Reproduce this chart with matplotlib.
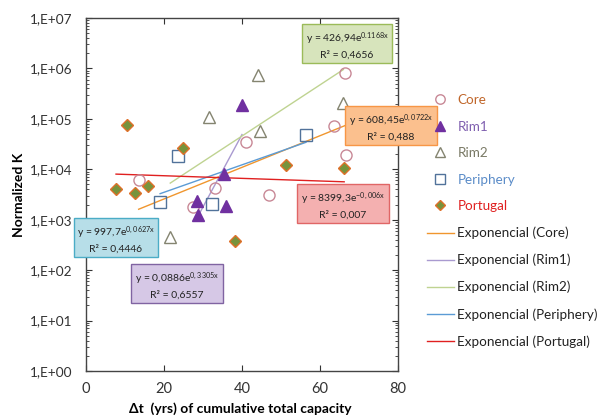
import numpy as np
import matplotlib
matplotlib.use("Agg")
import matplotlib.pyplot as plt
from matplotlib.lines import Line2D

plt.rcParams['font.family'] = ['Lato', 'DejaVu Sans']
plt.rcParams['mathtext.default'] = 'regular'

# ---- data ----
core_x = [13.5, 33.2, 27.5, 41.0, 66.5, 63.7, 66.7, 47.0]
core_y = [6200, 4200, 1800, 35000, 800000, 73000, 19000, 3100]
rim1_x = [40.0, 35.5, 28.5, 28.6, 35.9]
rim1_y = [190000, 8100, 2300, 1250, 1900]
rim2_x = [44.2, 31.5, 44.7, 66.0, 21.6]
rim2_y = [750000, 107000, 58000, 210000, 450]
peri_x = [23.5, 19.0, 32.2, 56.4]
peri_y = [18500, 2200, 2050, 47000]
port_x = [10.4, 24.9, 7.7, 12.6, 15.8, 38.2, 51.3, 66.2]
port_y = [76000, 27000, 4000, 3400, 4700, 370, 12300, 10700]

# exponential fits  y = a * exp(b x)
fit_a = {'Core': 608.45, 'Rim1': 0.0886, 'Rim2': 426.94, 'Periphery': 997.7, 'Portugal': 8399.3}
fit_b = {'Core': 0.0722, 'Rim1': 0.3305, 'Rim2': 0.1168, 'Periphery': 0.0627, 'Portugal': -0.006}
fit_r2 = {'Core': '0,488', 'Rim1': '0,6557', 'Rim2': '0,4656', 'Periphery': '0,4446', 'Portugal': '0,007'}
fit_a_txt = {'Core': '608,45', 'Rim1': '0,0886', 'Rim2': '426,94', 'Periphery': '997,7', 'Portugal': '8399,3'}
fit_b_txt = {'Core': '0,0722x', 'Rim1': '0,3305x', 'Rim2': '0.1168x', 'Periphery': '0,0627x', 'Portugal': '-0,006x'}

x_ticks = [0, 20, 40, 60, 80]
y_ticks = [1e0, 1e1, 1e2, 1e3, 1e4, 1e5, 1e6, 1e7]
y_ticklabels = ['1,E+00', '1,E+01', '1,E+02', '1,E+03', '1,E+04', '1,E+05', '1,E+06', '1,E+07']

W, H = 604, 418
fig = plt.figure(figsize=(W / 100, H / 100), dpi=100)
ax = fig.add_axes([86 / W, 1 - 371 / H, 312 / W, 353 / H])

series = {
    'Core': (core_x, core_y, dict(marker='o', ms=8, mfc='none', mec='#c88896', mew=1.0), '#c0662a'),
    'Rim1': (rim1_x, rim1_y, dict(marker='^', ms=8.5, mfc='#7030a0', mec='#7030a0', mew=1.0), '#8060b0'),
    'Rim2': (rim2_x, rim2_y, dict(marker='^', ms=9, mfc='none', mec='#848470', mew=1.0), '#7a7a66'),
    'Periphery': (peri_x, peri_y, dict(marker='s', ms=8, mfc='none', mec='#51729a', mew=1.0), '#5b8cc8'),
    'Portugal': (port_x, port_y, dict(marker='D', ms=6.5, mfc='#77933c', mec='#e0702a', mew=1.0), '#e02020'),
}
line_colors = {'Core': '#f0962e', 'Rim1': '#a99ad0', 'Rim2': '#bfd391', 'Periphery': '#5b9bd5', 'Portugal': '#e02020'}

for name, (xs, ys, st, tc) in series.items():
    xx = np.linspace(min(xs), max(xs), 100)
    ax.plot(xx, fit_a[name] * np.exp(fit_b[name] * xx), color=line_colors[name], lw=1.0, zorder=2)
for name, (xs, ys, st, tc) in series.items():
    ax.plot(xs, ys, linestyle='none', zorder=3, **st)

ax.set_yscale('log')
ax.set_xlim(0, 80)
ax.set_ylim(1, 1e7)
ax.set_xticks(x_ticks)
ax.set_xticklabels([str(v) for v in x_ticks])
ax.set_yticks(y_ticks)
ax.set_yticklabels(y_ticklabels)
ax.yaxis.set_minor_locator(matplotlib.ticker.LogLocator(base=10, subs=np.arange(2, 10)))
ax.yaxis.set_minor_formatter(matplotlib.ticker.NullFormatter())
ax.tick_params(which='both', direction='in', top=True, right=True, colors='#333333', labelcolor='#333333', labelsize=10.5)
ax.tick_params(which='major', length=4)
ax.tick_params(which='minor', length=2.5)
ax.tick_params(axis='x', pad=8)
ax.tick_params(axis='y', pad=9.5, labelsize=9.8)
for s in ax.spines.values():
    s.set_color('#444444')
    s.set_linewidth(1.0)

ax.set_ylabel('Normalized K', fontsize=10, fontweight='bold', labelpad=4)
fig.text(240 / W, 1 - 409 / H, 'Δt  (yrs) of cumulative total capacity', fontsize=10, fontweight='bold',
         ha='center', va='center')

# equation boxes
boxes = [
    ('Rim2', 347, 45, '#d7e4bc', '#9bbb59'),
    ('Core', 391, 127, '#fbc08e', '#f79646'),
    ('Portugal', 343, 205, '#f4b0b0', '#e06666'),
    ('Periphery', 116, 239, '#b7dee8', '#4bacc6'),
    ('Rim1', 177, 285, '#d6c8e6', '#8064a2'),
]
for name, px, py, fc, ec in boxes:
    txt = 'y = %se$^{%s}$\nR² = %s' % (fit_a_txt[name], fit_b_txt[name], fit_r2[name])
    fig.text(px / W, 1 - py / H, txt, fontsize=7.5, ha='center', va='center', color='#222222',
             linespacing=1.35, multialignment='center',
             bbox=dict(boxstyle='square,pad=0.32', fc=fc, ec=ec, lw=1.0), zorder=5)

# legend
handles = []
labels = []
for name, (xs, ys, st, tc) in series.items():
    handles.append(Line2D([], [], linestyle='none', **{k: v for k, v in st.items() if k != 'ms'}, ms=st['ms'] * 0.85))
    labels.append(name)
for name in series:
    handles.append(Line2D([], [], color=line_colors[name], lw=1.0))
    labels.append('Exponencial (%s)' % name)
leg = fig.legend(handles, labels, loc='upper left', bbox_to_anchor=(427 / W, 1 - 94 / H),
                 frameon=False, fontsize=9.7, handlelength=2.0, handletextpad=0.25,
                 labelspacing=1.08, borderpad=0, borderaxespad=0)
for t, name in zip(leg.get_texts()[:5], series):
    t.set_color(series[name][3])
for t in leg.get_texts()[5:]:
    t.set_color('#222222')

fig.savefig('out.png', dpi=100)
